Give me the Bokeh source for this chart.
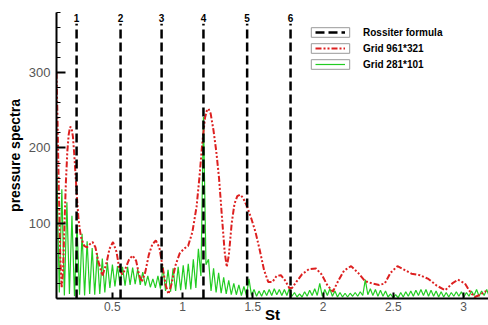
import numpy as np
from bokeh.plotting import figure
from bokeh.models import Legend, LegendItem, FixedTicker, Range1d
from bokeh.core.properties import value
from bokeh.embed import file_html
from bokeh.resources import INLINE

# ---------------- data ----------------
rossiter_st = [0.246, 0.559, 0.851, 1.149, 1.46, 1.769]
rossiter_labels = ["1", "2", "3", "4", "5", "6"]

red_st = [0.103, 0.11, 0.12, 0.13, 0.14, 0.15, 0.16, 0.17, 0.18, 0.19,
          0.20, 0.21, 0.22, 0.23, 0.24, 0.25, 0.26, 0.27, 0.28, 0.30,
          0.32, 0.34, 0.36, 0.38, 0.40, 0.43, 0.46, 0.48, 0.505, 0.53,
          0.55, 0.57, 0.59, 0.62, 0.645, 0.67, 0.69, 0.71, 0.735, 0.76,
          0.785, 0.81, 0.835, 0.86, 0.88, 0.90, 0.92, 0.95, 0.98, 1.01,
          1.04, 1.07, 1.10, 1.12, 1.14, 1.16, 1.175, 1.185, 1.20, 1.22,
          1.24, 1.26, 1.28, 1.30, 1.315, 1.33, 1.35, 1.37, 1.39, 1.41,
          1.43, 1.46, 1.49, 1.52, 1.55, 1.58, 1.61, 1.64, 1.67, 1.70,
          1.73, 1.76, 1.78, 1.81, 1.85, 1.90, 1.95, 1.99, 2.03, 2.07,
          2.11, 2.15, 2.20, 2.25, 2.30, 2.35, 2.40, 2.44, 2.48, 2.53,
          2.58, 2.63, 2.69, 2.75, 2.81, 2.87, 2.92, 2.96, 3.01, 3.05,
          3.08, 3.12, 3.16]
red_val = [300, 240, 140, 55, 14, 40, 100, 155, 195, 218,
           228, 227, 215, 190, 160, 130, 105, 90, 80, 70,
           68, 72, 75, 68, 50, 30, 48, 66, 75, 62,
           40, 32, 38, 52, 57, 50, 32, 22, 35, 58,
           72, 77, 68, 40, 18, 6, 18, 44, 60, 66,
           70, 88, 122, 160, 205, 240, 251, 252, 246, 224,
           196, 160, 110, 62, 42, 58, 100, 126, 136, 138,
           134, 122, 106, 88, 64, 38, 22, 22, 30, 31,
           24, 14, 14, 22, 32, 39, 40, 32, 18, 9,
           24, 37, 43, 34, 23, 20, 18, 20, 34, 43,
           38, 33, 31, 26, 17, 11, 20, 25, 20, 8,
           2, 5, 10]

# green: oscillating spectrum, peaks and troughs
green_st_start = 0.105
green_period = 0.036
green_peaks = [168, 145, 128, 110, 98, 86, 76, 67, 60, 53,
               48, 45, 43, 42, 42, 41, 39, 35, 30, 26,
               30, 42, 38, 40, 42, 44, 46, 52, 66, 241,
               52, 40, 34, 28, 24, 20, 18, 16, 26, 12,
               10, 11, 12, 13, 12, 12, 14, 8, 6, 9,
               11, 13, 20, 12, 13, 10, 8, 7, 7, 8,
               9, 25, 13, 12, 11, 10, 6, 5, 8, 9,
               10, 11, 12, 12, 11, 10, 9, 8, 8, 9,
               9, 8, 10, 12, 10, 12, 11]
green_troughs = [8, 4, 6, 3, 5, 4, 6, 5, 6, 8,
                 14, 16, 18, 17, 18, 19, 18, 17, 15, 14,
                 13, 10, 9, 10, 11, 12, 12, 14, 30, 45,
                 10, 8, 7, 6, 5, 5, 4, 4, 4, 3,
                 3, 4, 4, 5, 4, 4, 3, 2, 2, 3,
                 4, 4, 3, 4, 3, 2, 2, 2, 3, 3,
                 4, 5, 4, 3, 3, 2, 1, 1, 2, 3,
                 3, 4, 4, 3, 3, 2, 2, 2, 3, 3,
                 2, 3, 4, 3, 4, 3]

x_ticks = [0.5, 1.0, 1.5, 2.0, 2.5, 3.0]
x_tick_labels = ["0.5", "1", "1.5", "2", "2.5", "3"]
y_ticks = [100, 200, 300]
y_minor_step = 20

assert len(red_st) == len(red_val)

green_st, green_val = [], []
for i, pk in enumerate(green_peaks):
    green_st.append(green_st_start + i * green_period)
    green_val.append(pk)
    if i < len(green_troughs):
        green_st.append(green_st_start + (i + 0.5) * green_period)
        green_val.append(green_troughs[i])

FONT = "Liberation Sans"
Y_MAX = 380

# ---------------- figure ----------------
p = figure(width=488, height=325, x_range=Range1d(0.103, 3.178), y_range=Range1d(0, Y_MAX),
           output_backend="svg", toolbar_location=None,
           min_border_left=56, min_border_right=0, min_border_top=12, min_border_bottom=27)
p.outline_line_color = None
p.xgrid.visible = False
p.ygrid.visible = False

green_r = p.line(green_st, green_val, line_color="#22cc22", line_width=1.2)
red_r = p.line(red_st, red_val, line_color="#dd2020", line_width=2,
               line_dash="6 2 2 2 2 2")
ross_r = p.segment(x0=rossiter_st, y0=[0] * len(rossiter_st), x1=rossiter_st,
                   y1=[365] * len(rossiter_st), line_color="black", line_width=2.5,
                   line_dash="9 4")
p.text(x=rossiter_st, y=[373] * len(rossiter_st), text=rossiter_labels,
       text_align="center", text_baseline="middle", text_font=value(FONT),
       text_font_style="bold", text_font_size="10px", text_color="black")

# axes
xa = p.xaxis[0]
xa.ticker = FixedTicker(ticks=x_ticks, minor_ticks=[])
xa.major_label_overrides = {t: l for t, l in zip(x_ticks, x_tick_labels)}
xa.major_tick_in = 6
xa.major_tick_out = 0
xa.major_tick_line_width = 2
xa.axis_line_width = 2
xa.major_label_standoff = 3
xa.major_label_text_font = FONT
xa.major_label_text_font_size = "12px"
xa.major_label_text_color = "#555555"
xa.axis_label = "St"
xa.axis_label_text_font = FONT
xa.axis_label_text_font_style = "bold"
xa.axis_label_text_font_size = "15px"
xa.axis_label_text_color = "black"
xa.axis_label_standoff = -8

ya = p.yaxis[0]
ya.ticker = FixedTicker(ticks=y_ticks, minor_ticks=list(range(0, Y_MAX + 1, y_minor_step)))
ya.major_tick_in = 9
ya.major_tick_out = 0
ya.minor_tick_in = 4
ya.minor_tick_out = 0
ya.major_tick_line_width = 2
ya.axis_line_width = 2
ya.major_label_standoff = 6
ya.major_label_text_font = FONT
ya.major_label_text_font_size = "13px"
ya.major_label_text_color = "#555555"
ya.axis_label = "pressure spectra"
ya.axis_label_text_font = FONT
ya.axis_label_text_font_style = "bold"
ya.axis_label_text_font_size = "14px"
ya.axis_label_standoff = 3
ya.axis_label_text_color = "black"

# legend: boxes around samples (helper glyph kept off-screen), then samples + labels
box_r = p.quad(left=[-10], right=[-9], top=[-10], bottom=[-11], fill_color="white",
               line_color="#999999", line_width=1)
legend_boxes = Legend(items=[LegendItem(label=" ", renderers=[box_r]) for _ in range(3)],
                      location=(250, 228), glyph_width=48, glyph_height=12, label_height=12,
                      spacing=4, padding=0, margin=0, label_standoff=0,
                      border_line_color=None, background_fill_alpha=0,
                      label_text_font_size="1px")
legend_main = Legend(items=[LegendItem(label="Rossiter formula", renderers=[ross_r]),
                            LegendItem(label="Grid 961*321", renderers=[red_r]),
                            LegendItem(label="Grid 281*101", renderers=[green_r])],
                     location=(259, 228), glyph_width=30, glyph_height=12, label_height=12,
                     spacing=4, padding=0, margin=0, label_standoff=18,
                     border_line_color=None, background_fill_alpha=0,
                     label_text_font=FONT, label_text_font_style="bold",
                     label_text_font_size="10px", label_text_color="black")
p.add_layout(legend_boxes)
p.add_layout(legend_main)

open("out.html", "w").write(file_html(p, INLINE))
